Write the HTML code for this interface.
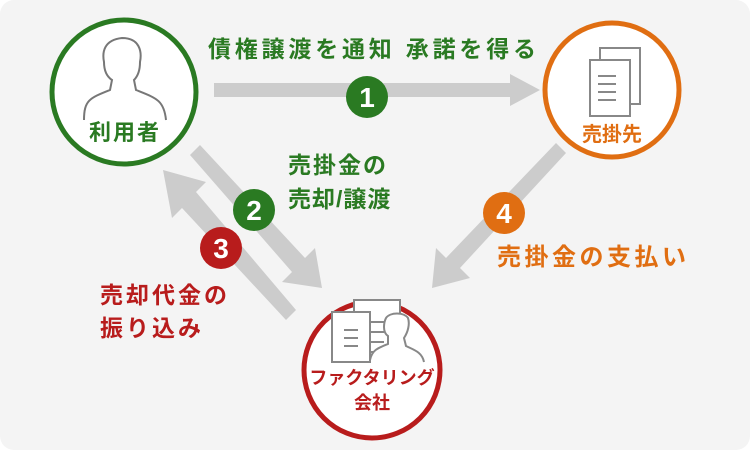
<!DOCTYPE html>
<html><head><meta charset="utf-8"><style>
body{margin:0;background:#fff;}
svg{display:block;font-family:"Liberation Sans","Noto Sans CJK JP",sans-serif;font-weight:bold;}
</style></head><body>
<svg width="750" height="450" viewBox="0 0 750 450">
<rect x="0" y="0" width="750" height="450" rx="14" fill="#f4f4f4"/>
<g fill="#cccccc">
<rect x="214" y="83" width="300" height="14"/>
<polygon points="510,74 540,90 510,106"/>
<polygon points="190,155 200,145 305,258 315,248 322,288 282,282 292,272"/>
<polygon points="296,310 286,320 182,208 172,218 163,170 206,182 196,192"/>
<polygon points="556,143 566,153 460,268 470,278 432,288 436,248 446,258"/>
</g>
<circle cx="124" cy="92" r="72" fill="#fff" stroke="#2a7a22" stroke-width="5"/>
<circle cx="612" cy="90" r="67" fill="#fff" stroke="#e06e12" stroke-width="5"/>
<circle cx="372" cy="370" r="68" fill="#fff" stroke="#b81c1c" stroke-width="5"/>
<path d="M84,120 C84,100 90,98 110,90 L112,80 C106,76 104,70 104,62 C102,52 104,40 122,38 C140,38 142,52 140,62 C140,70 138,76 134,80 L136,90 C156,98 164,100 166,120" fill="none" stroke="#777" stroke-width="2"/>
<text x="125" y="140" font-size="22" letter-spacing="2" fill="#2a7a22" text-anchor="middle">利用者</text>
<g fill="none" stroke="#888" stroke-width="2">
<rect x="600" y="48" width="40" height="56" fill="#fff"/>
<rect x="590" y="60" width="40" height="56" fill="#fff"/>
<path d="M598,76h18M598,84h18M598,92h18M598,100h18"/>
</g>
<text x="612" y="141" font-size="20" fill="#e06e12" text-anchor="middle">売掛先</text>
<g fill="none" stroke="#888" stroke-width="2">
<rect x="354" y="300" width="46" height="52" fill="#fff"/>
<rect x="332" y="312" width="38" height="50" fill="#fff"/>
<path d="M344,330h14M344,338h14M344,346h14M370,322h14M370,332h14M370,342h14"/>
<path d="M370,360 C372,350 378,348 388,344 L388,336 C382,332 384,322 386,318 C390,312 404,312 408,318 C410,324 408,332 404,338 L406,346 C414,350 422,352 424,362" fill="#fff"/>
</g>
<text x="372" y="384" font-size="18" fill="#b81c1c" text-anchor="middle">ファクタリング</text>
<text x="372" y="409" font-size="18" fill="#b81c1c" text-anchor="middle">会社</text>
<text x="208" y="57" font-size="23" letter-spacing="3.8" fill="#2a7a22">債権譲渡を通知 承諾を得る</text>
<text x="288" y="173" font-size="23" letter-spacing="2" fill="#2a7a22">売掛金の</text>
<text x="288" y="207" font-size="23" letter-spacing="1" fill="#2a7a22">売却/譲渡</text>
<text x="100" y="303" font-size="23" letter-spacing="3" fill="#b81c1c">売却代金の</text>
<text x="100" y="336" font-size="23" letter-spacing="3" fill="#b81c1c">振り込み</text>
<text x="497" y="265" font-size="24" letter-spacing="3.5" fill="#e06e12">売掛金の支払い</text>
<g font-size="28" fill="#fff" text-anchor="middle">
<circle cx="367" cy="97" r="21" fill="#2a7a22"/><text x="367" y="107">1</text>
<circle cx="254" cy="210" r="21" fill="#2a7a22"/><text x="254" y="220">2</text>
<circle cx="221" cy="248" r="21" fill="#b81c1c"/><text x="221" y="258">3</text>
<circle cx="504" cy="213" r="21" fill="#e06e12"/><text x="504" y="223">4</text>
</g>
</svg>
</body></html>
